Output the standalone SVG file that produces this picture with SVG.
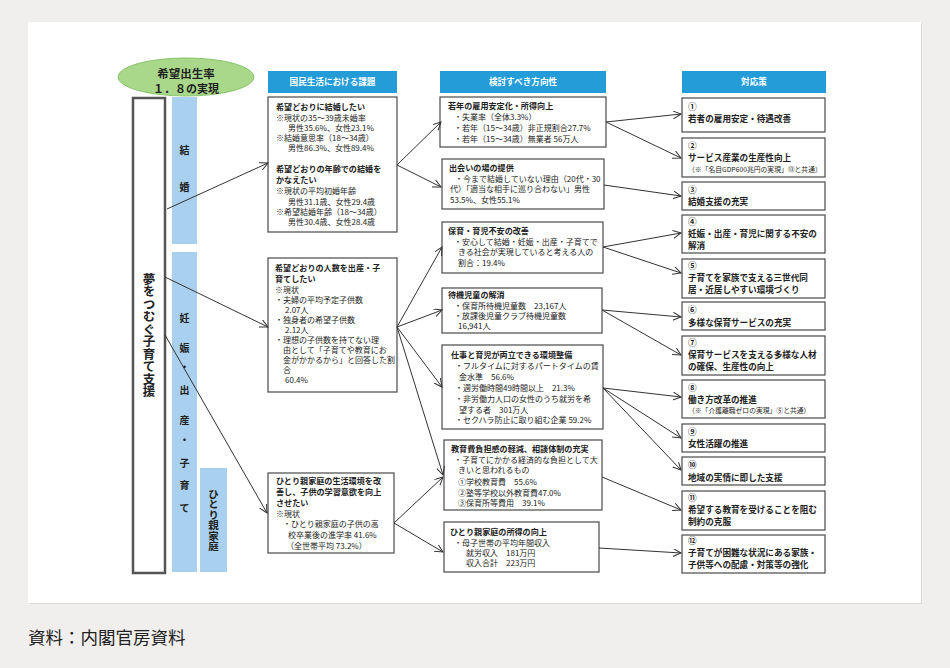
<svg xmlns="http://www.w3.org/2000/svg" width="950" height="668" viewBox="0 0 950 668">
<style>
text{font-family:"Noto Sans CJK JP","Noto Sans",sans-serif;fill:#222}
.b{font-size:8.1px;font-weight:bold}
.t{font-size:8px}
.c{font-size:8.6px;font-weight:bold}
.s{font-size:6.8px}
.h{font-size:8.6px;font-weight:bold;fill:#fff}
.box{fill:#fff;stroke:#4a4a4a;stroke-width:1.2}
.bar{fill:#a9d0ee}
.hd{fill:#239cd8}
.v{font-size:10px;font-weight:bold}
.cn line,.cn path{stroke:#333;stroke-width:1;fill:none}
</style>
<defs>
<marker id="arr" markerUnits="userSpaceOnUse" markerWidth="10" markerHeight="10" refX="8" refY="4" orient="auto"><path d="M0,0 L8,4 L0,8" fill="none" stroke="#333" stroke-width="1"/></marker>
</defs>
<rect width="950" height="668" fill="#f0efed"/>
<rect x="29" y="23" width="893" height="581" fill="#dcdbd8"/>
<rect x="28" y="22" width="893" height="581" fill="#fff"/>
<text x="28" y="644" style="font-size:17.5px;fill:#222">資料：内閣官房資料</text>

<g id="goal">
<ellipse cx="186" cy="77" rx="68" ry="19" fill="#a9d88b" stroke="#86c468" stroke-width="1"/>
<text x="186" y="78" text-anchor="middle" style="font-size:11.5px;font-weight:bold">希望出生率</text>
<text x="186" y="93" text-anchor="middle" style="font-size:11px;font-weight:bold">１．８の実現</text>
</g>

<g id="main">
<rect x="133" y="98" width="32" height="475" fill="#fff" stroke="#555" stroke-width="2.5"/>
<text x="149" y="335" text-anchor="middle" style="font-size:12.5px;font-weight:bold;writing-mode:vertical-rl">夢をつむぐ子育て支援</text>
</g>

<g id="cat-marriage">
<rect class="bar" x="172" y="97" width="25" height="147"/>
<text class="v" x="184.5" y="154" text-anchor="middle">結</text>
<text class="v" x="184.5" y="191" text-anchor="middle">婚</text>
</g>
<g id="cat-birth">
<rect class="bar" x="172" y="252" width="25" height="320"/>
<text class="v" x="184.5" y="322" text-anchor="middle">妊</text>
<text class="v" x="184.5" y="352" text-anchor="middle">娠</text>
<text class="v" x="184.5" y="371" text-anchor="middle">・</text>
<text class="v" x="184.5" y="394" text-anchor="middle">出</text>
<text class="v" x="184.5" y="424" text-anchor="middle">産</text>
<text class="v" x="184.5" y="444" text-anchor="middle">・</text>
<text class="v" x="184.5" y="467" text-anchor="middle">子</text>
<text class="v" x="184.5" y="489" text-anchor="middle">育</text>
<text class="v" x="184.5" y="512" text-anchor="middle">て</text>
</g>
<g id="cat-single">
<rect class="bar" x="200" y="468" width="27" height="104"/>
<text x="213.5" y="520" text-anchor="middle" style="font-size:10.5px;font-weight:bold;writing-mode:vertical-rl">ひとり親家庭</text>
</g>

<g id="head1"><rect class="hd" x="268" y="71" width="129" height="22"/><text class="h" x="332.5" y="85" text-anchor="middle">国民生活における課題</text></g>
<g id="head2"><rect class="hd" x="440" y="71" width="166" height="22"/><text class="h" x="523" y="85" text-anchor="middle">検討すべき方向性</text></g>
<g id="head3"><rect class="hd" x="682" y="71" width="144" height="22"/><text class="h" x="754" y="85" text-anchor="middle">対応策</text></g>

<g id="issue1">
<rect class="box" x="268" y="97" width="129" height="135"/>
<text class="b" x="276" y="110">希望どおりに結婚したい</text>
<text class="t" x="276" y="121">※現状の35～39歳未婚率</text>
<text class="t" x="288" y="131">男性35.6%、女性23.1%</text>
<text class="t" x="276" y="141">※結婚意思率（18～34歳）</text>
<text class="t" x="288" y="151">男性86.3%、女性89.4%</text>
<text class="b" x="276" y="172">希望どおりの年齢での結婚を</text>
<text class="b" x="276" y="183">かなえたい</text>
<text class="t" x="276" y="194">※現状の平均初婚年齢</text>
<text class="t" x="288" y="205">男性31.1歳、女性29.4歳</text>
<text class="t" x="276" y="215">※希望結婚年齢（18～34歳）</text>
<text class="t" x="288" y="225">男性30.4歳、女性28.4歳</text>
</g>

<g id="issue2">
<rect class="box" x="268" y="258" width="129" height="134"/>
<text class="b" x="275" y="271">希望どおりの人数を出産・子</text>
<text class="b" x="275" y="282">育てしたい</text>
<text class="t" x="275" y="293">※現状</text>
<text class="t" x="275" y="303">・夫婦の平均予定子供数</text>
<text class="t" x="285" y="313">2.07人</text>
<text class="t" x="275" y="323">・独身者の希望子供数</text>
<text class="t" x="285" y="333">2.12人</text>
<text class="t" x="275" y="343">・理想の子供数を持てない理</text>
<text class="t" x="283" y="353">由として「子育てや教育にお</text>
<text class="t" x="283" y="363">金がかかるから」と回答した割</text>
<text class="t" x="283" y="373">合</text>
<text class="t" x="285" y="383">60.4%</text>
</g>

<g id="issue3">
<rect class="box" x="268" y="473" width="126" height="80"/>
<text class="b" x="276" y="484">ひとり親家庭の生活環境を改</text>
<text class="b" x="276" y="495">善し、子供の学習意欲を向上</text>
<text class="b" x="276" y="506">させたい</text>
<text class="t" x="276" y="517">※現状</text>
<text class="t" x="283" y="527">・ひとり親家庭の子供の高</text>
<text class="t" x="288" y="538">校卒業後の進学率 41.6%</text>
<text class="t" x="286" y="549">（全世帯平均 73.2%）</text>
</g>

<g id="dir1">
<rect class="box" x="440" y="97" width="166" height="50"/>
<text class="b" x="448" y="109">若年の雇用安定化・所得向上</text>
<text class="t" x="454" y="120">・失業率（全体3.3%）</text>
<text class="t" x="454" y="131">・若年（15～34歳）非正規割合27.7%</text>
<text class="t" x="454" y="142">・若年（15～34歳）無業者 56万人</text>
</g>
<g id="dir2">
<rect class="box" x="442" y="159" width="162" height="50"/>
<text class="b" x="449" y="171">出会いの場の提供</text>
<text class="t" x="455" y="182">・今まで結婚していない理由（20代・30</text>
<text class="t" x="450" y="192">代）「適当な相手に巡り合わない」男性</text>
<text class="t" x="450" y="203">53.5%、女性55.1%</text>
</g>
<g id="dir3">
<rect class="box" x="442" y="222" width="161" height="51"/>
<text class="b" x="448" y="234">保育・育児不安の改善</text>
<text class="t" x="454" y="245">・安心して結婚・妊娠・出産・子育てで</text>
<text class="t" x="458" y="255">きる社会が実現していると考える人の</text>
<text class="t" x="458" y="266">割合：19.4%</text>
</g>
<g id="dir4">
<rect class="box" x="442" y="288" width="160" height="45"/>
<text class="b" x="448" y="298">待機児童の解消</text>
<text class="t" x="454" y="309">・保育所待機児童数　23,167人</text>
<text class="t" x="454" y="319">・放課後児童クラブ待機児童数</text>
<text class="t" x="458" y="329">16,941人</text>
</g>
<g id="dir5">
<rect class="box" x="442" y="345" width="161" height="84"/>
<text class="b" x="451" y="358">仕事と育児が両立できる環境整備</text>
<text class="t" x="455" y="369">・フルタイムに対するパートタイムの賃</text>
<text class="t" x="459" y="380">金水準　56.6%</text>
<text class="t" x="455" y="391">・週労働時間49時間以上　21.3%</text>
<text class="t" x="455" y="402">・非労働力人口の女性のうち就労を希</text>
<text class="t" x="459" y="413">望する者　301万人</text>
<text class="t" x="455" y="423">・セクハラ防止に取り組む企業 59.2%</text>
</g>
<g id="dir6">
<rect class="box" x="444" y="440" width="158" height="70"/>
<text class="b" x="451" y="452">教育費負担感の軽減、相談体制の充実</text>
<text class="t" x="454" y="463">・子育てにかかる経済的な負担として大</text>
<text class="t" x="458" y="473">きいと思われるもの</text>
<text class="t" x="458" y="485">①学校教育費　55.6%</text>
<text class="t" x="458" y="496">②塾等学校以外教育費47.0%</text>
<text class="t" x="458" y="506">③保育所等費用　39.1%</text>
</g>
<g id="dir7">
<rect class="box" x="444" y="522" width="155" height="50"/>
<text class="b" x="450" y="535">ひとり親家庭の所得の向上</text>
<text class="t" x="454" y="546">・母子世帯の平均年間収入</text>
<text class="t" x="466" y="556">就労収入　181万円</text>
<text class="t" x="466" y="566">収入合計　223万円</text>
</g>

<g id="m1"><rect class="box" x="682" y="98" width="143" height="34"/><text class="c" x="688" y="110">①</text><text class="c" x="688" y="122">若者の雇用安定・待遇改善</text></g>
<g id="m2"><rect class="box" x="682" y="138" width="143" height="39"/><text class="c" x="688" y="149">②</text><text class="c" x="688" y="161">サービス産業の生産性向上</text><text class="s" x="688" y="172">（※「名目GDP600兆円の実現」⑬と共通）</text></g>
<g id="m3"><rect class="box" x="682" y="182" width="143" height="28"/><text class="c" x="688" y="193">③</text><text class="c" x="688" y="205">結婚支援の充実</text></g>
<g id="m4"><rect class="box" x="682" y="215" width="143" height="38"/><text class="c" x="688" y="225">④</text><text class="c" x="688" y="237">妊娠・出産・育児に関する不安の</text><text class="c" x="688" y="249">解消</text></g>
<g id="m5"><rect class="box" x="682" y="259" width="143" height="39"/><text class="c" x="688" y="269">⑤</text><text class="c" x="688" y="281">子育てを家族で支える三世代同</text><text class="c" x="688" y="293">居・近居しやすい環境づくり</text></g>
<g id="m6"><rect class="box" x="682" y="302" width="143" height="28"/><text class="c" x="688" y="313">⑥</text><text class="c" x="688" y="326">多様な保育サービスの充実</text></g>
<g id="m7"><rect class="box" x="682" y="336" width="143" height="39"/><text class="c" x="688" y="346">⑦</text><text class="c" x="688" y="358">保育サービスを支える多様な人材</text><text class="c" x="688" y="370">の確保、生産性の向上</text></g>
<g id="m8"><rect class="box" x="682" y="380" width="143" height="38"/><text class="c" x="688" y="391">⑧</text><text class="c" x="688" y="403">働き方改革の推進</text><text class="s" x="688" y="413">（※「介護離職ゼロの実現」⑤と共通）</text></g>
<g id="m9"><rect class="box" x="682" y="424" width="143" height="28"/><text class="c" x="688" y="435">⑨</text><text class="c" x="688" y="447">女性活躍の推進</text></g>
<g id="m10"><rect class="box" x="682" y="457" width="143" height="28"/><text class="c" x="688" y="468">⑩</text><text class="c" x="688" y="481">地域の実情に即した支援</text></g>
<g id="m11"><rect class="box" x="682" y="491" width="143" height="39"/><text class="c" x="688" y="501">⑪</text><text class="c" x="688" y="513">希望する教育を受けることを阻む</text><text class="c" x="688" y="525">制約の克服</text></g>
<g id="m12"><rect class="box" x="682" y="535" width="143" height="38"/><text class="c" x="688" y="544">⑫</text><text class="c" x="688" y="556">子育てが困難な状況にある家族・</text><text class="c" x="688" y="568">子供等への配慮・対策等の強化</text></g>

<g id="connectors" class="cn">
<path d="M167,209 L268,163" marker-end="url(#arr)"/>
<path d="M165,277 L268,327" marker-end="url(#arr)"/>
<path d="M165,335 L267,513" marker-end="url(#arr)"/>
<path d="M397,165 L441,122" marker-end="url(#arr)"/>
<path d="M397,165 L441,187" marker-end="url(#arr)"/>
<path d="M397,327 L442,247" marker-end="url(#arr)"/>
<path d="M397,327 L442,310" marker-end="url(#arr)"/>
<path d="M397,327 L442,387" marker-end="url(#arr)"/>
<path d="M397,327 L443,475" marker-end="url(#arr)"/>
<path d="M394,523 L443,477" marker-end="url(#arr)"/>
<path d="M394,523 L443,552" marker-end="url(#arr)"/>
<path d="M606,122 L681,114" marker-end="url(#arr)"/>
<path d="M606,122 L681,158" marker-end="url(#arr)"/>
<path d="M604,185 L681,196" marker-end="url(#arr)"/>
<path d="M603,247 L681,233" marker-end="url(#arr)"/>
<path d="M603,247 L681,273" marker-end="url(#arr)"/>
<path d="M602,310 L681,317" marker-end="url(#arr)"/>
<path d="M602,310 L681,355" marker-end="url(#arr)"/>
<path d="M603,388 L681,397" marker-end="url(#arr)"/>
<path d="M603,388 L681,438" marker-end="url(#arr)"/>
<path d="M603,388 L681,470" marker-end="url(#arr)"/>
<path d="M602,477 L681,510" marker-end="url(#arr)"/>
<path d="M599,548 L681,553" marker-end="url(#arr)"/>
</g>
</svg>
